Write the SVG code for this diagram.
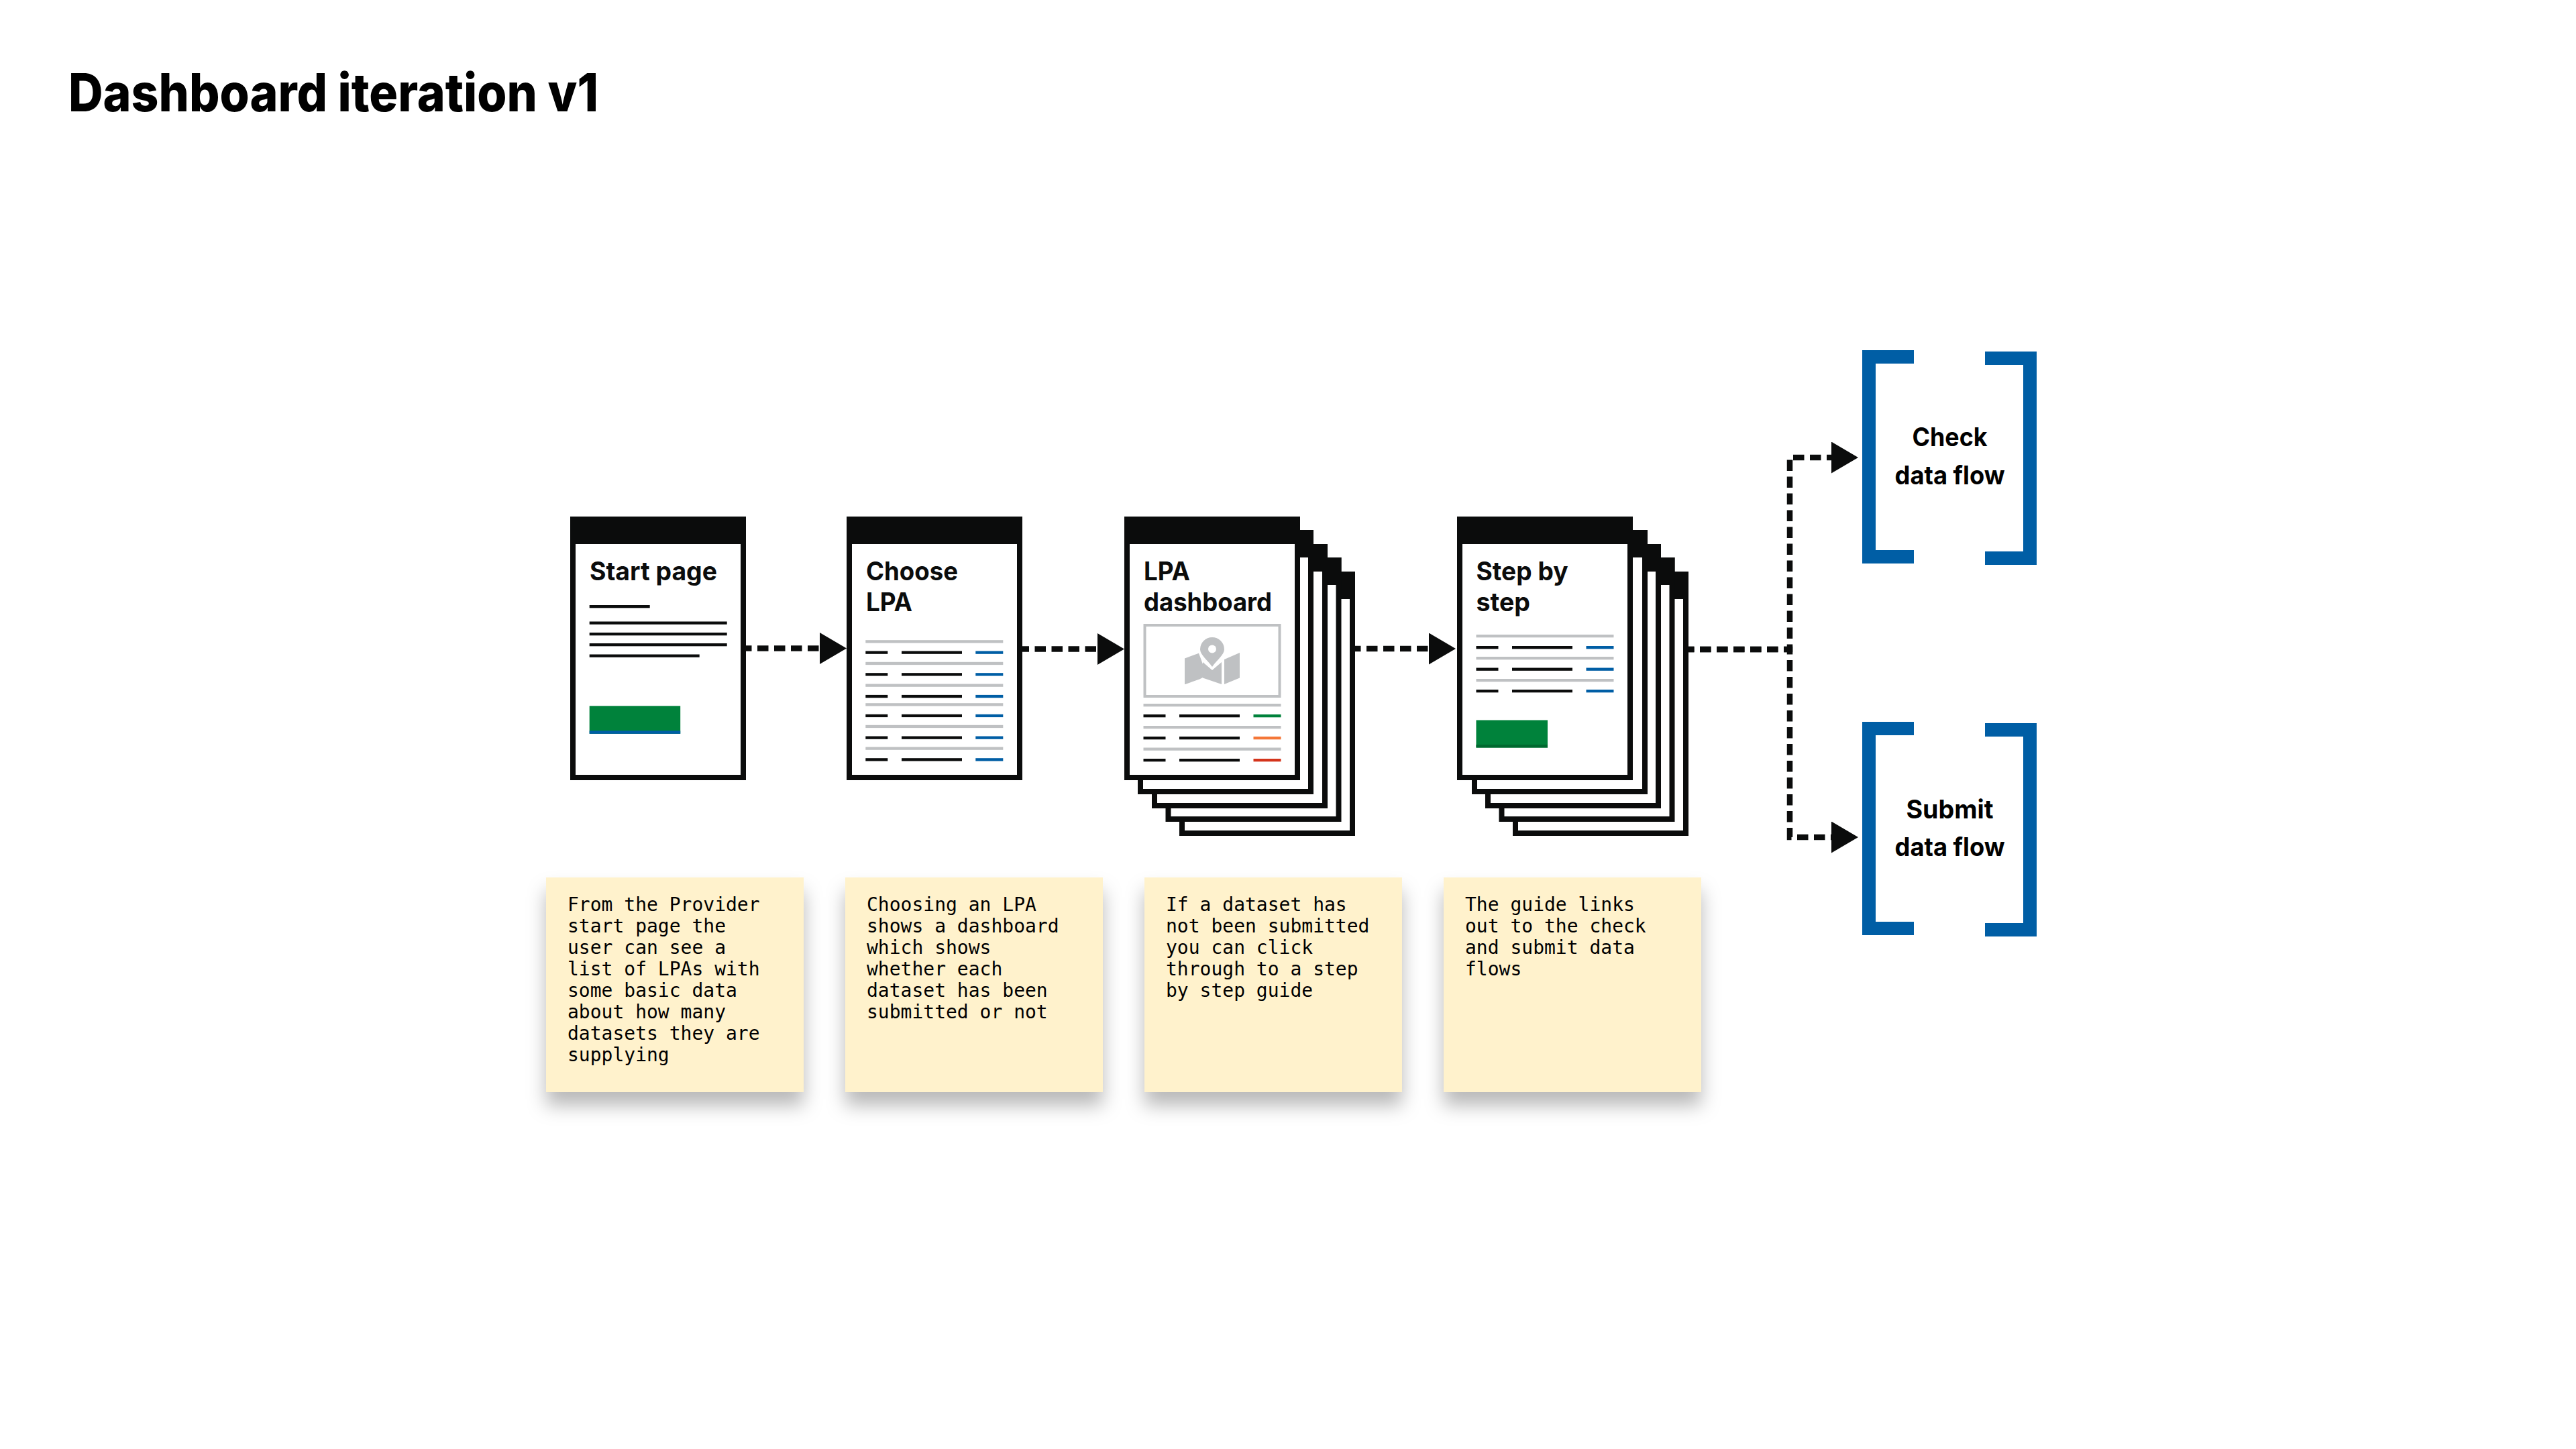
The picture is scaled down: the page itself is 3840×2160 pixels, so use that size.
<svg xmlns="http://www.w3.org/2000/svg" width="3840" height="2160" viewBox="0 0 3840 2160">
<style>
text{font-family:Inter,"Liberation Sans",Arial,sans-serif;font-weight:700;fill:#0b0c0c}
.t{font-size:38px}
.title{font-size:78px;font-weight:800;fill:#000}
.b{font-size:38px;fill:#000;text-anchor:middle}
.n{font-family:"DejaVu Sans Mono",monospace;font-weight:400;font-size:28px;fill:#000}
.pg{fill:#fff;stroke:#0b0c0c;stroke-width:8}
.hd{fill:#0b0c0c}
.k{fill:#0b0c0c}.g{fill:#bfc1c3}.bl{fill:#005ea5}.gr{fill:#00823b}.or{fill:#f47738}.re{fill:#d4351c}
.note{fill:#fff2cc;filter:url(#sh)}
.c{fill:none;stroke:#0b0c0c;stroke-width:8.500;stroke-dasharray:16.5 8.5}
.br{fill:none;stroke:#005ea5;stroke-width:20}
</style>
<defs>
<marker id="ah" markerUnits="userSpaceOnUse" markerWidth="40" markerHeight="47" refX="0" refY="23.5" orient="auto"><path d="M0 0L40 23.5L0 47Z" fill="#0b0c0c"/></marker>
<filter id="sh" x="-20%" y="-20%" width="140%" height="140%"><feDropShadow dx="0" dy="20" stdDeviation="14" flood-color="#000" flood-opacity="0.28"/></filter>
</defs>
<rect width="3840" height="2160" fill="#fff"/>
<text id="title" class="title" x="102" y="166" textLength="790" lengthAdjust="spacingAndGlyphs">Dashboard iteration v1</text>

<g id="connectors">
<path class="c" d="M1112 966.500H1222" stroke-dashoffset="8" marker-end="url(#ah)"/>
<path class="c" d="M1524 967.500H1636" stroke-dashoffset="6.500" marker-end="url(#ah)"/>
<path class="c" d="M2020 967H2130" stroke-dashoffset="8" marker-end="url(#ah)"/>
<path class="c" d="M2517 968H2668V682H2730" stroke-dashoffset="8" marker-end="url(#ah)"/>
<path class="c" d="M2517 968H2668V1248H2730" stroke-dashoffset="8" marker-end="url(#ah)"/>
</g>

<g id="start-page">
<rect class="pg" x="854" y="774" width="254" height="385"/><rect class="hd" x="850" y="770" width="262" height="41"/>
<text class="t" x="879" y="865" textLength="190" lengthAdjust="spacingAndGlyphs">Start page</text>
<rect class="k" x="878.700" y="902" width="90" height="4.300"/>
<rect class="k" x="878.700" y="926.500" width="205" height="4.300"/>
<rect class="k" x="878.700" y="943" width="205" height="4.300"/>
<rect class="k" x="878.700" y="959" width="205" height="4.300"/>
<rect class="k" x="878.700" y="975.500" width="164" height="4.300"/>
<rect class="gr" x="878.700" y="1052.300" width="135.500" height="41.500"/>
<rect class="bl" x="878.700" y="1089.300" width="135.500" height="4.500"/>
</g>

<g id="choose-lpa">
<rect class="pg" x="1266" y="774" width="254" height="385"/><rect class="hd" x="1262" y="770" width="262" height="41"/>
<text class="t" x="1291" y="865" textLength="137" lengthAdjust="spacingAndGlyphs">Choose</text>
<text class="t" x="1291" y="911" textLength="69" lengthAdjust="spacingAndGlyphs">LPA</text>
<g transform="translate(1290.300 0)">
<rect class="g" y="954.200" width="205" height="4.300"/><rect class="k" y="970.500" width="33" height="4.300"/><rect class="k" x="53.700" y="970.500" width="90" height="4.300"/><rect class="bl" x="164" y="970.500" width="41" height="4.300"/>
<rect class="g" y="986.800" width="205" height="4.300"/><rect class="k" y="1003.200" width="33" height="4.300"/><rect class="k" x="53.700" y="1003.200" width="90" height="4.300"/><rect class="bl" x="164" y="1003.200" width="41" height="4.300"/>
<rect class="g" y="1019.500" width="205" height="4.300"/><rect class="k" y="1035.900" width="33" height="4.300"/><rect class="k" x="53.700" y="1035.900" width="90" height="4.300"/><rect class="bl" x="164" y="1035.900" width="41" height="4.300"/>
<rect class="g" y="1048.200" width="205" height="4.300"/><rect class="k" y="1064.800" width="33" height="4.300"/><rect class="k" x="53.700" y="1064.800" width="90" height="4.300"/><rect class="bl" x="164" y="1064.800" width="41" height="4.300"/>
<rect class="g" y="1080.800" width="205" height="4.300"/><rect class="k" y="1097.500" width="33" height="4.300"/><rect class="k" x="53.700" y="1097.500" width="90" height="4.300"/><rect class="bl" x="164" y="1097.500" width="41" height="4.300"/>
<rect class="g" y="1113.500" width="205" height="4.300"/><rect class="k" y="1130.200" width="33" height="4.300"/><rect class="k" x="53.700" y="1130.200" width="90" height="4.300"/><rect class="bl" x="164" y="1130.200" width="41" height="4.300"/>
</g>
</g>

<g id="lpa-dashboard">
<rect class="pg" x="1762" y="856" width="254" height="386"/><rect class="hd" x="1758" y="852" width="262" height="41"/>
<rect class="pg" x="1741.500" y="835" width="254" height="386"/><rect class="hd" x="1737.500" y="831" width="262" height="41"/>
<rect class="pg" x="1721" y="815" width="254" height="386"/><rect class="hd" x="1717" y="811" width="262" height="41"/>
<rect class="pg" x="1700" y="794" width="254" height="386"/><rect class="hd" x="1696" y="790" width="262" height="41"/>
<rect class="pg" x="1680" y="774" width="254" height="385"/><rect class="hd" x="1676" y="770" width="262" height="41"/>
<text class="t" x="1705" y="865" textLength="69" lengthAdjust="spacingAndGlyphs">LPA</text>
<text class="t" x="1705" y="911" textLength="191" lengthAdjust="spacingAndGlyphs">dashboard</text>
<rect x="1706.500" y="932" width="201" height="106" fill="#fff" stroke="#bfc1c3" stroke-width="4"/>
<path class="g" d="M1766 981.500L1787 973.800L1793 990V1010L1788 1012.500L1767 1020H1766Z"/>
<path class="g" d="M1793 987L1807 999L1821 987V1020L1793 1010.500Z"/>
<path class="g" d="M1825 983L1848 973V1010.500L1825 1020Z"/>
<path class="g" d="M1807 994C1800 984 1789 976 1789 968A18 18 0 0 1 1825 968C1825 976 1814 984 1807 994Z"/>
<circle cx="1807" cy="967.500" r="6" fill="#fff"/>
<g transform="translate(1704.500 0)">
<rect class="g" y="1049" width="205" height="4.300"/><rect class="k" y="1065" width="33" height="4.300"/><rect class="k" x="53.500" y="1065" width="90" height="4.300"/><rect class="gr" x="164" y="1065" width="41" height="4.300"/>
<rect class="g" y="1082" width="205" height="4.300"/><rect class="k" y="1098" width="33" height="4.300"/><rect class="k" x="53.500" y="1098" width="90" height="4.300"/><rect class="or" x="164" y="1098" width="41" height="4.300"/>
<rect class="g" y="1114.500" width="205" height="4.300"/><rect class="k" y="1131" width="33" height="4.300"/><rect class="k" x="53.500" y="1131" width="90" height="4.300"/><rect class="re" x="164" y="1131" width="41" height="4.300"/>
</g>
</g>

<g id="step-by-step">
<rect class="pg" x="2259" y="856" width="254" height="386"/><rect class="hd" x="2255" y="852" width="262" height="41"/>
<rect class="pg" x="2238.500" y="835" width="254" height="386"/><rect class="hd" x="2234.500" y="831" width="262" height="41"/>
<rect class="pg" x="2218" y="815" width="254" height="386"/><rect class="hd" x="2214" y="811" width="262" height="41"/>
<rect class="pg" x="2198" y="794" width="254" height="386"/><rect class="hd" x="2194" y="790" width="262" height="41"/>
<rect class="pg" x="2176" y="774" width="254" height="385"/><rect class="hd" x="2172" y="770" width="262" height="41"/>
<text class="t" x="2200.500" y="865" textLength="137" lengthAdjust="spacingAndGlyphs">Step by</text>
<text class="t" x="2200.500" y="911" textLength="80.500" lengthAdjust="spacingAndGlyphs">step</text>
<g transform="translate(2200.500 0)">
<rect class="g" y="946" width="205" height="4.300"/><rect class="k" y="963" width="33" height="4.300"/><rect class="k" x="53.500" y="963" width="90" height="4.300"/><rect class="bl" x="164" y="963" width="41" height="4.300"/>
<rect class="g" y="979" width="205" height="4.300"/><rect class="k" y="995.500" width="33" height="4.300"/><rect class="k" x="53.500" y="995.500" width="90" height="4.300"/><rect class="bl" x="164" y="995.500" width="41" height="4.300"/>
<rect class="g" y="1012" width="205" height="4.300"/><rect class="k" y="1028" width="33" height="4.300"/><rect class="k" x="53.500" y="1028" width="90" height="4.300"/><rect class="bl" x="164" y="1028" width="41" height="4.300"/>
<rect class="gr" y="1073.500" width="106.500" height="41"/><rect y="1110" width="106.500" height="4.500" fill="#00692f"/>
</g>
</g>

<g id="check-data-flow">
<path class="br" d="M2853 532H2786V830H2853"/>
<path class="br" d="M2959 534H3026V832H2959"/>
<text class="b" x="2906.500" y="665" textLength="112" lengthAdjust="spacingAndGlyphs">Check</text>
<text class="b" x="2906.500" y="722" textLength="164" lengthAdjust="spacingAndGlyphs">data flow</text>
</g>
<g id="submit-data-flow">
<path class="br" d="M2853 1086H2786V1384H2853"/>
<path class="br" d="M2959 1088H3026V1386H2959"/>
<text class="b" x="2906.500" y="1220" textLength="130" lengthAdjust="spacingAndGlyphs">Submit</text>
<text class="b" x="2906.500" y="1276" textLength="164" lengthAdjust="spacingAndGlyphs">data flow</text>
</g>

<g id="note-1"><rect class="note" x="814" y="1308" width="384" height="320"/>
<text class="n" x="846"><tspan x="846" y="1358">From the Provider</tspan><tspan x="846" y="1390">start page the</tspan><tspan x="846" y="1422">user can see a</tspan><tspan x="846" y="1454">list of LPAs with</tspan><tspan x="846" y="1486">some basic data</tspan><tspan x="846" y="1518">about how many</tspan><tspan x="846" y="1550">datasets they are</tspan><tspan x="846" y="1582">supplying</tspan></text></g>
<g id="note-2"><rect class="note" x="1260" y="1308" width="384" height="320"/>
<text class="n" x="1292"><tspan x="1292" y="1358">Choosing an LPA</tspan><tspan x="1292" y="1390">shows a dashboard</tspan><tspan x="1292" y="1422">which shows</tspan><tspan x="1292" y="1454">whether each</tspan><tspan x="1292" y="1486">dataset has been</tspan><tspan x="1292" y="1518">submitted or not</tspan></text></g>
<g id="note-3"><rect class="note" x="1706" y="1308" width="384" height="320"/>
<text class="n" x="1738"><tspan x="1738" y="1358">If a dataset has</tspan><tspan x="1738" y="1390">not been submitted</tspan><tspan x="1738" y="1422">you can click</tspan><tspan x="1738" y="1454">through to a step</tspan><tspan x="1738" y="1486">by step guide</tspan></text></g>
<g id="note-4"><rect class="note" x="2152" y="1308" width="384" height="320"/>
<text class="n" x="2184"><tspan x="2184" y="1358">The guide links</tspan><tspan x="2184" y="1390">out to the check</tspan><tspan x="2184" y="1422">and submit data</tspan><tspan x="2184" y="1454">flows</tspan></text></g>
</svg>
